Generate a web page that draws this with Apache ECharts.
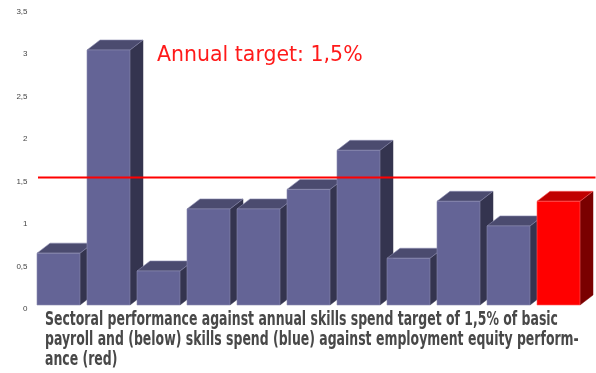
<!DOCTYPE html>
<html>
<head>
<meta charset="utf-8">
<style>
  html, body { margin: 0; padding: 0; background: #ffffff; }
  #chart { width: 596px; height: 373px; }
</style>
<script src="https://cdn.jsdelivr.net/npm/echarts@6/dist/echarts.min.js"></script>
</head>
<body>
<div id="chart"></div>
<script>
// Skills spend per sector (% of basic payroll); the last column is employment equity
const sectors = ['S1', 'S2', 'S3', 'S4', 'S5', 'S6', 'S7', 'S8', 'S9', 'S10', 'EE'];
const spendValues = [0.61, 3.0, 0.40, 1.13, 1.13, 1.36, 1.82, 0.55, 1.22, 0.93, 1.22];
const highlightIndex = [10];
const targetValue = [1.5];
const yTicks = { min: 0, max: 3.5, interval: 0.5 };
const targetText = 'Annual target: 1,5%';
const captionLines = [
  'Sectoral performance against annual skills spend target of 1,5% of basic',
  'payroll and (below) skills spend (blue) against employment equity perform-',
  'ance (red)'
];

const blueFaces = { front: '#646496', top: '#4b4b6f', side: '#34344f', edge: '#8c8cb0' };
const redFaces = { front: '#ff0000', top: '#c00000', side: '#7a0000', edge: '#ff6060' };
const DEPTH_X = 13, DEPTH_Y = 10;

// Caption is set in a condensed bold face; squeeze it horizontally to its column width
const captionFont = 'bold 19px "Liberation Sans Narrow", "DejaVu Sans Condensed", sans-serif';
const captionWidth = 513;
const measureCtx = document.createElement('canvas').getContext('2d');
measureCtx.font = captionFont;
const captionScale = captionWidth / measureCtx.measureText(captionLines[0]).width;

const chart = echarts.init(document.getElementById('chart'), null, { renderer: 'canvas' });

function renderColumn(params, api) {
  const idx = api.value(0);
  const val = api.value(1);
  const base = api.coord([idx, 0]);
  const top = api.coord([idx, val]);
  const band = api.size([1, 0])[0];
  const w = band * 0.86;
  const x0 = base[0] - w / 2, x1 = x0 + w;
  const yb = base[1], yt = top[1];
  const c = highlightIndex.indexOf(idx) >= 0 ? redFaces : blueFaces;
  return {
    type: 'group',
    children: [
      { type: 'polygon', shape: { points: [[x1, yt], [x1 + DEPTH_X, yt - DEPTH_Y], [x1 + DEPTH_X, yb - DEPTH_Y], [x1, yb]] },
        style: { fill: c.side, stroke: c.side, lineWidth: 0.5 } },
      { type: 'polygon', shape: { points: [[x0, yt], [x0 + DEPTH_X, yt - DEPTH_Y], [x1 + DEPTH_X, yt - DEPTH_Y], [x1, yt]] },
        style: { fill: c.top, stroke: c.edge, lineWidth: 0.6 } },
      { type: 'rect', shape: { x: x0, y: yt, width: w, height: yb - yt },
        style: { fill: c.front, stroke: c.edge, lineWidth: 0.6 } }
    ]
  };
}

function renderTarget(params, api) {
  const p = api.coord([0, api.value(0)]);
  const cs = params.coordSys;
  return {
    type: 'line',
    z2: 10,
    shape: { x1: cs.x + 4.5, y1: p[1], x2: cs.x + cs.width + 12, y2: p[1] },
    style: { stroke: '#ff0000', lineWidth: 2 }
  };
}

chart.setOption({
  animation: false,
  backgroundColor: '#ffffff',
  grid: { left: 33.5, right: 12.5, top: 7.5, bottom: 68 },
  xAxis: {
    type: 'category',
    data: sectors,
    boundaryGap: true,
    axisLine: { show: false },
    axisTick: { show: false },
    axisLabel: { show: false },
    splitLine: { show: false }
  },
  yAxis: {
    type: 'value',
    min: yTicks.min,
    max: yTicks.max,
    interval: yTicks.interval,
    axisLine: { show: false },
    axisTick: { show: false },
    splitLine: { show: false },
    axisLabel: {
      margin: 6,
      fontSize: 8,
      color: '#444444',
      fontFamily: 'Liberation Sans, Arial, sans-serif',
      verticalAlign: 'top',
      formatter: v => String(v).replace('.', ',')
    }
  },
  series: [
    {
      type: 'custom',
      renderItem: renderColumn,
      data: spendValues.map((v, i) => [i, v]),
      encode: { x: 0, y: 1 },
      z: 2
    },
    {
      type: 'custom',
      renderItem: renderTarget,
      data: targetValue.map(v => [v]),
      encode: { y: 0 },
      z: 5
    }
  ],
  graphic: [
    {
      type: 'text',
      left: 157,
      top: 45,
      style: {
        text: targetText,
        fill: '#ff1a1a',
        fontSize: 20.5,
        fontFamily: 'DejaVu Sans, Verdana, sans-serif',
        fontWeight: 'normal'
      }
    },
    {
      type: 'text',
      x: 45,
      y: 310,
      scaleX: captionScale,
      style: {
        text: captionLines.join('\n'),
        fill: '#484848',
        font: captionFont,
        lineHeight: 20
      }
    }
  ]
});
</script>
</body>
</html>
